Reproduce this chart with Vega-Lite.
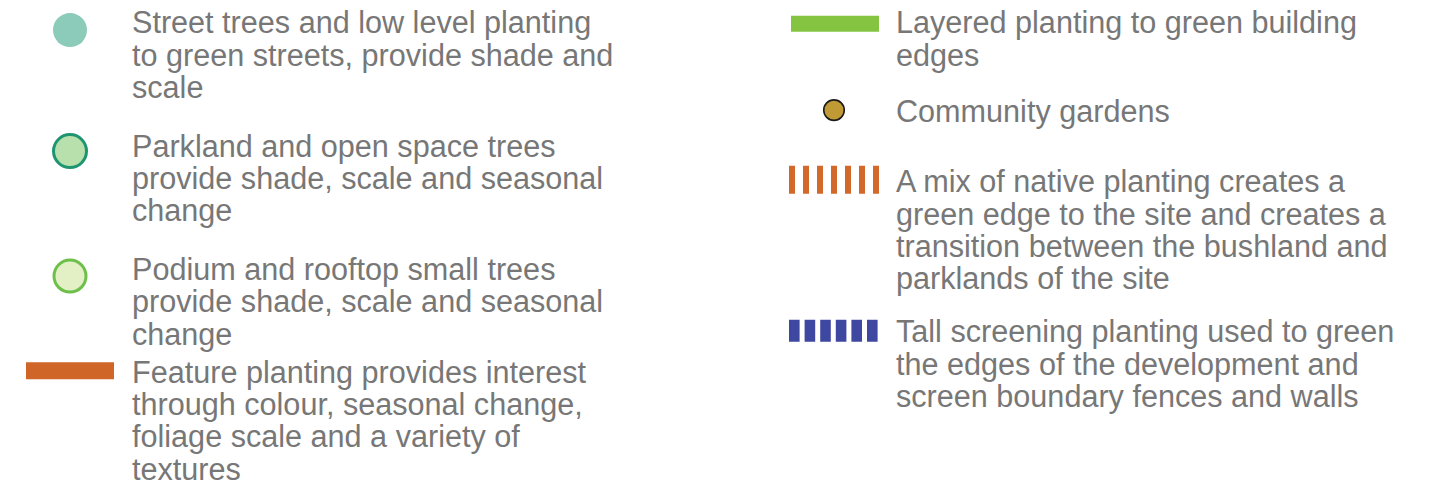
{
  "$schema": "https://vega.github.io/schema/vega-lite/v6.json",
  "width": 1438,
  "height": 486,
  "autosize": {"type": "fit", "contains": "padding"},
  "padding": 0,
  "background": "white",
  "config": {"view": {"stroke": null}},
  "datasets": {
    "items": [
      {"col": 0, "line": 0, "label": "Street trees and low level planting\nto green streets, provide shade and\nscale"},
      {"col": 0, "line": 3.87, "label": "Parkland and open space trees\nprovide shade, scale and seasonal\nchange"},
      {"col": 0, "line": 7.74, "label": "Podium and rooftop small trees\nprovide shade, scale and seasonal\nchange"},
      {"col": 0, "line": 10.96, "label": "Feature planting provides interest\nthrough colour, seasonal change,\nfoliage scale and a variety of\ntextures"},
      {"col": 1, "line": 0, "label": "Layered planting to green building\nedges"},
      {"col": 1, "line": 2.786, "label": "Community gardens"},
      {"col": 1, "line": 4.985, "label": "A mix of native planting creates a\ngreen edge to the site and creates a\ntransition between the bushland and\nparklands of the site"},
      {"col": 1, "line": 9.69, "label": "Tall screening planting used to green\nthe edges of the development and\nscreen boundary fences and walls"}
    ],
    "symbols": [
      {"col": 0, "line": 0.263, "kind": "street"},
      {"col": 0, "line": 4.056, "kind": "parkland"},
      {"col": 0, "line": 7.972, "kind": "podium"},
      {"col": 0, "line": 10.944, "kind": "feature"},
      {"col": 1, "line": 0.062, "kind": "layered"},
      {"col": 1, "line": 2.771, "kind": "community"},
      {"col": 1, "line": 4.954, "kind": "native"},
      {"col": 1, "line": 9.69, "kind": "screening"}
    ]
  },
  "layer": [
    {
      "data": {"name": "items"},
      "mark": {"type": "text", "align": "left", "baseline": "alphabetic", "dx": 106, "dy": 11.5, "font": "Liberation Sans", "fontSize": 30.6, "fill": "#777777", "lineBreak": "\n", "lineHeight": 32.3},
      "encoding": {
        "x": {"field": "col", "type": "quantitative", "scale": {"domain": [-0.03403, 1.84817], "nice": false, "zero": false}, "axis": null},
        "y": {"field": "line", "type": "quantitative", "scale": {"domain": [-0.6811, 14.3653], "reverse": true, "nice": false, "zero": false}, "axis": null},
        "text": {"field": "label"}
      }
    },
    {
      "data": {"name": "symbols"},
      "transform": [{"filter": "datum.kind === 'street'"}],
      "mark": {"type": "point", "shape": "circle", "filled": true, "size": 1156, "xOffset": 44, "fill": "#8ccbb9", "opacity": 1, "strokeWidth": 0},
      "encoding": {
        "x": {"field": "col", "type": "quantitative"},
        "y": {"field": "line", "type": "quantitative"}
      }
    },
    {
      "data": {"name": "symbols"},
      "transform": [{"filter": "datum.kind === 'parkland'"}],
      "mark": {"type": "point", "shape": "circle", "filled": true, "size": 1089, "xOffset": 44, "fill": "#b7e0ad", "stroke": "#1f9470", "strokeWidth": 3, "opacity": 1},
      "encoding": {
        "x": {"field": "col", "type": "quantitative"},
        "y": {"field": "line", "type": "quantitative"}
      }
    },
    {
      "data": {"name": "symbols"},
      "transform": [{"filter": "datum.kind === 'podium'"}],
      "mark": {"type": "point", "shape": "circle", "filled": true, "size": 1024, "xOffset": 44, "fill": "#e3efc4", "stroke": "#6cc04a", "strokeWidth": 3, "opacity": 1},
      "encoding": {
        "x": {"field": "col", "type": "quantitative"},
        "y": {"field": "line", "type": "quantitative"}
      }
    },
    {
      "data": {"name": "symbols"},
      "transform": [{"filter": "datum.kind === 'community'"}],
      "mark": {"type": "point", "shape": "circle", "filled": true, "size": 420, "xOffset": 44, "fill": "#c09a35", "stroke": "#1a1a1a", "strokeWidth": 1.6, "opacity": 1},
      "encoding": {
        "x": {"field": "col", "type": "quantitative"},
        "y": {"field": "line", "type": "quantitative"}
      }
    },
    {
      "data": {"name": "symbols"},
      "transform": [{"filter": "datum.kind === 'feature'"}],
      "mark": {"type": "rule", "x2Offset": 88, "stroke": "#cf6527", "strokeWidth": 17, "strokeCap": "butt"},
      "encoding": {
        "x": {"field": "col", "type": "quantitative"},
        "x2": {"field": "col"},
        "y": {"field": "line", "type": "quantitative"}
      }
    },
    {
      "data": {"name": "symbols"},
      "transform": [{"filter": "datum.kind === 'layered'"}],
      "mark": {"type": "rule", "xOffset": 1, "x2Offset": 89, "stroke": "#84c441", "strokeWidth": 16, "strokeCap": "butt"},
      "encoding": {
        "x": {"field": "col", "type": "quantitative"},
        "x2": {"field": "col"},
        "y": {"field": "line", "type": "quantitative"}
      }
    },
    {
      "data": {"name": "symbols"},
      "transform": [{"filter": "datum.kind === 'native'"}],
      "mark": {"type": "rule", "xOffset": -1, "x2Offset": 89, "stroke": "#d2692a", "strokeWidth": 28, "strokeCap": "butt", "strokeDash": [6, 8]},
      "encoding": {
        "x": {"field": "col", "type": "quantitative"},
        "x2": {"field": "col"},
        "y": {"field": "line", "type": "quantitative"}
      }
    },
    {
      "data": {"name": "symbols"},
      "transform": [{"filter": "datum.kind === 'screening'"}],
      "mark": {"type": "rule", "xOffset": -1, "x2Offset": 88, "stroke": "#3f48a0", "strokeWidth": 22, "strokeCap": "butt", "strokeDash": [10.6, 5]},
      "encoding": {
        "x": {"field": "col", "type": "quantitative"},
        "x2": {"field": "col"},
        "y": {"field": "line", "type": "quantitative"}
      }
    }
  ]
}
